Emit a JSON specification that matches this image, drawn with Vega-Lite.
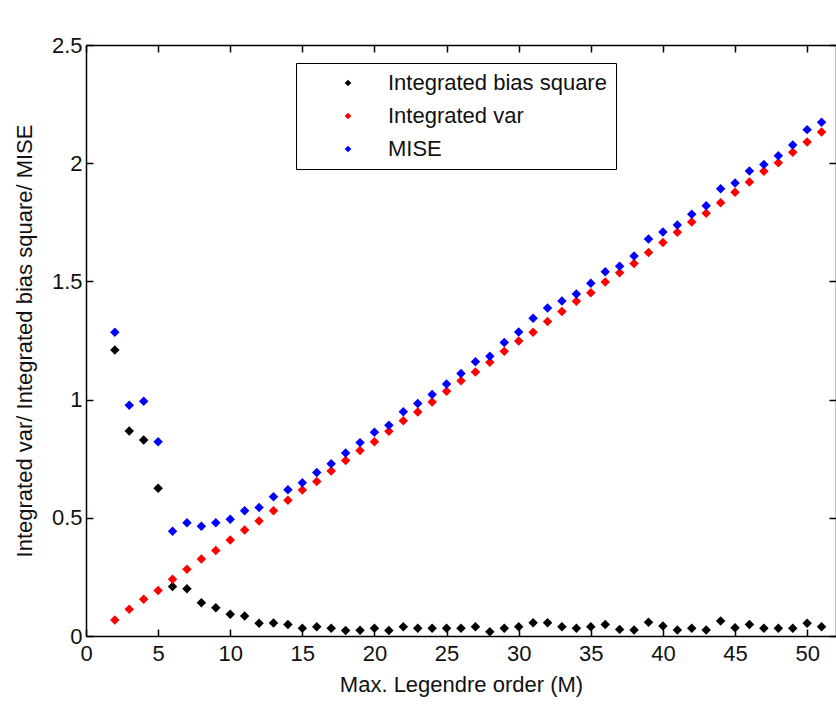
{
  "$schema": "https://vega.github.io/schema/vega-lite/v6.json",
  "width": 750,
  "height": 591,
  "autosize": {"type": "none"},
  "padding": {"left": 86, "top": 45, "right": 0, "bottom": 68},
  "background": "white",
  "config": {
    "view": {"stroke": null},
    "font": "Liberation Sans",
    "axis": {
      "grid": false,
      "domainColor": "black",
      "domainWidth": 1.5,
      "tickColor": "black",
      "tickWidth": 1.5,
      "labelFlush": false,
      "labelColor": "#111",
      "labelFont": "Liberation Sans",
      "labelFontSize": 22,
      "titleColor": "#111",
      "titleFont": "Liberation Sans",
      "titleFontSize": 22,
      "titleFontWeight": "normal"
    }
  },
  "datasets": {
    "curves": [
      {"M": 2, "s": "Integrated bias square", "v": 1.21},
      {"M": 3, "s": "Integrated bias square", "v": 0.867},
      {"M": 4, "s": "Integrated bias square", "v": 0.829},
      {"M": 5, "s": "Integrated bias square", "v": 0.625},
      {"M": 6, "s": "Integrated bias square", "v": 0.209},
      {"M": 7, "s": "Integrated bias square", "v": 0.2},
      {"M": 8, "s": "Integrated bias square", "v": 0.141},
      {"M": 9, "s": "Integrated bias square", "v": 0.12},
      {"M": 10, "s": "Integrated bias square", "v": 0.092},
      {"M": 11, "s": "Integrated bias square", "v": 0.085},
      {"M": 12, "s": "Integrated bias square", "v": 0.054},
      {"M": 13, "s": "Integrated bias square", "v": 0.055},
      {"M": 14, "s": "Integrated bias square", "v": 0.049},
      {"M": 15, "s": "Integrated bias square", "v": 0.033},
      {"M": 16, "s": "Integrated bias square", "v": 0.039},
      {"M": 17, "s": "Integrated bias square", "v": 0.033},
      {"M": 18, "s": "Integrated bias square", "v": 0.023},
      {"M": 19, "s": "Integrated bias square", "v": 0.024},
      {"M": 20, "s": "Integrated bias square", "v": 0.033},
      {"M": 21, "s": "Integrated bias square", "v": 0.023},
      {"M": 22, "s": "Integrated bias square", "v": 0.039},
      {"M": 23, "s": "Integrated bias square", "v": 0.033},
      {"M": 24, "s": "Integrated bias square", "v": 0.033},
      {"M": 25, "s": "Integrated bias square", "v": 0.033},
      {"M": 26, "s": "Integrated bias square", "v": 0.033},
      {"M": 27, "s": "Integrated bias square", "v": 0.039},
      {"M": 28, "s": "Integrated bias square", "v": 0.018},
      {"M": 29, "s": "Integrated bias square", "v": 0.033},
      {"M": 30, "s": "Integrated bias square", "v": 0.039},
      {"M": 31, "s": "Integrated bias square", "v": 0.056},
      {"M": 32, "s": "Integrated bias square", "v": 0.056},
      {"M": 33, "s": "Integrated bias square", "v": 0.039},
      {"M": 34, "s": "Integrated bias square", "v": 0.033},
      {"M": 35, "s": "Integrated bias square", "v": 0.039},
      {"M": 36, "s": "Integrated bias square", "v": 0.049},
      {"M": 37, "s": "Integrated bias square", "v": 0.028},
      {"M": 38, "s": "Integrated bias square", "v": 0.025},
      {"M": 39, "s": "Integrated bias square", "v": 0.058},
      {"M": 40, "s": "Integrated bias square", "v": 0.042},
      {"M": 41, "s": "Integrated bias square", "v": 0.025},
      {"M": 42, "s": "Integrated bias square", "v": 0.033},
      {"M": 43, "s": "Integrated bias square", "v": 0.025},
      {"M": 44, "s": "Integrated bias square", "v": 0.063},
      {"M": 45, "s": "Integrated bias square", "v": 0.035},
      {"M": 46, "s": "Integrated bias square", "v": 0.049},
      {"M": 47, "s": "Integrated bias square", "v": 0.033},
      {"M": 48, "s": "Integrated bias square", "v": 0.033},
      {"M": 49, "s": "Integrated bias square", "v": 0.033},
      {"M": 50, "s": "Integrated bias square", "v": 0.054},
      {"M": 51, "s": "Integrated bias square", "v": 0.039},
      {"M": 2, "s": "Integrated var", "v": 0.068},
      {"M": 3, "s": "Integrated var", "v": 0.113},
      {"M": 4, "s": "Integrated var", "v": 0.155},
      {"M": 5, "s": "Integrated var", "v": 0.192},
      {"M": 6, "s": "Integrated var", "v": 0.24},
      {"M": 7, "s": "Integrated var", "v": 0.282},
      {"M": 8, "s": "Integrated var", "v": 0.326},
      {"M": 9, "s": "Integrated var", "v": 0.362},
      {"M": 10, "s": "Integrated var", "v": 0.406},
      {"M": 11, "s": "Integrated var", "v": 0.448},
      {"M": 12, "s": "Integrated var", "v": 0.486},
      {"M": 13, "s": "Integrated var", "v": 0.53},
      {"M": 14, "s": "Integrated var", "v": 0.574},
      {"M": 15, "s": "Integrated var", "v": 0.618},
      {"M": 16, "s": "Integrated var", "v": 0.654},
      {"M": 17, "s": "Integrated var", "v": 0.698},
      {"M": 18, "s": "Integrated var", "v": 0.742},
      {"M": 19, "s": "Integrated var", "v": 0.785},
      {"M": 20, "s": "Integrated var", "v": 0.822},
      {"M": 21, "s": "Integrated var", "v": 0.866},
      {"M": 22, "s": "Integrated var", "v": 0.911},
      {"M": 23, "s": "Integrated var", "v": 0.948},
      {"M": 24, "s": "Integrated var", "v": 0.99},
      {"M": 25, "s": "Integrated var", "v": 1.035},
      {"M": 26, "s": "Integrated var", "v": 1.08},
      {"M": 27, "s": "Integrated var", "v": 1.117},
      {"M": 28, "s": "Integrated var", "v": 1.158},
      {"M": 29, "s": "Integrated var", "v": 1.204},
      {"M": 30, "s": "Integrated var", "v": 1.248},
      {"M": 31, "s": "Integrated var", "v": 1.285},
      {"M": 32, "s": "Integrated var", "v": 1.33},
      {"M": 33, "s": "Integrated var", "v": 1.373},
      {"M": 34, "s": "Integrated var", "v": 1.416},
      {"M": 35, "s": "Integrated var", "v": 1.452},
      {"M": 36, "s": "Integrated var", "v": 1.497},
      {"M": 37, "s": "Integrated var", "v": 1.537},
      {"M": 38, "s": "Integrated var", "v": 1.576},
      {"M": 39, "s": "Integrated var", "v": 1.622},
      {"M": 40, "s": "Integrated var", "v": 1.665},
      {"M": 41, "s": "Integrated var", "v": 1.708},
      {"M": 42, "s": "Integrated var", "v": 1.751},
      {"M": 43, "s": "Integrated var", "v": 1.788},
      {"M": 44, "s": "Integrated var", "v": 1.833},
      {"M": 45, "s": "Integrated var", "v": 1.877},
      {"M": 46, "s": "Integrated var", "v": 1.92},
      {"M": 47, "s": "Integrated var", "v": 1.966},
      {"M": 48, "s": "Integrated var", "v": 2.002},
      {"M": 49, "s": "Integrated var", "v": 2.046},
      {"M": 50, "s": "Integrated var", "v": 2.09},
      {"M": 51, "s": "Integrated var", "v": 2.132},
      {"M": 2, "s": "MISE", "v": 1.285},
      {"M": 3, "s": "MISE", "v": 0.976},
      {"M": 4, "s": "MISE", "v": 0.993},
      {"M": 5, "s": "MISE", "v": 0.822},
      {"M": 6, "s": "MISE", "v": 0.443},
      {"M": 7, "s": "MISE", "v": 0.479},
      {"M": 8, "s": "MISE", "v": 0.464},
      {"M": 9, "s": "MISE", "v": 0.479},
      {"M": 10, "s": "MISE", "v": 0.494},
      {"M": 11, "s": "MISE", "v": 0.53},
      {"M": 12, "s": "MISE", "v": 0.544},
      {"M": 13, "s": "MISE", "v": 0.589},
      {"M": 14, "s": "MISE", "v": 0.619},
      {"M": 15, "s": "MISE", "v": 0.648},
      {"M": 16, "s": "MISE", "v": 0.692},
      {"M": 17, "s": "MISE", "v": 0.729},
      {"M": 18, "s": "MISE", "v": 0.774},
      {"M": 19, "s": "MISE", "v": 0.818},
      {"M": 20, "s": "MISE", "v": 0.862},
      {"M": 21, "s": "MISE", "v": 0.891},
      {"M": 22, "s": "MISE", "v": 0.949},
      {"M": 23, "s": "MISE", "v": 0.984},
      {"M": 24, "s": "MISE", "v": 1.022},
      {"M": 25, "s": "MISE", "v": 1.066},
      {"M": 26, "s": "MISE", "v": 1.11},
      {"M": 27, "s": "MISE", "v": 1.16},
      {"M": 28, "s": "MISE", "v": 1.183},
      {"M": 29, "s": "MISE", "v": 1.242},
      {"M": 30, "s": "MISE", "v": 1.286},
      {"M": 31, "s": "MISE", "v": 1.344},
      {"M": 32, "s": "MISE", "v": 1.387},
      {"M": 33, "s": "MISE", "v": 1.417},
      {"M": 34, "s": "MISE", "v": 1.447},
      {"M": 35, "s": "MISE", "v": 1.492},
      {"M": 36, "s": "MISE", "v": 1.541},
      {"M": 37, "s": "MISE", "v": 1.564},
      {"M": 38, "s": "MISE", "v": 1.607},
      {"M": 39, "s": "MISE", "v": 1.679},
      {"M": 40, "s": "MISE", "v": 1.709},
      {"M": 41, "s": "MISE", "v": 1.739},
      {"M": 42, "s": "MISE", "v": 1.784},
      {"M": 43, "s": "MISE", "v": 1.82},
      {"M": 44, "s": "MISE", "v": 1.892},
      {"M": 45, "s": "MISE", "v": 1.916},
      {"M": 46, "s": "MISE", "v": 1.967},
      {"M": 47, "s": "MISE", "v": 1.995},
      {"M": 48, "s": "MISE", "v": 2.032},
      {"M": 49, "s": "MISE", "v": 2.077},
      {"M": 50, "s": "MISE", "v": 2.142},
      {"M": 51, "s": "MISE", "v": 2.173}
    ]
  },
  "resolve": {"axis": {"x": "independent", "y": "independent"}},
  "layer": [
    {
      "data": {"name": "curves"},
      "mark": {"type": "point", "shape": "diamond", "filled": true, "size": 90, "opacity": 1},
      "encoding": {
        "x": {
          "field": "M",
          "type": "quantitative",
          "scale": {"domain": [0, 52], "nice": false, "zero": false},
          "axis": {
            "orient": "bottom",
            "values": [0, 5, 10, 15, 20, 25, 30, 35, 40, 45, 50],
            "title": "Max. Legendre order (M)",
            "tickSize": -7,
            "labelPadding": 14,
            "titlePadding": 10
          }
        },
        "y": {
          "field": "v",
          "type": "quantitative",
          "scale": {"domain": [0, 2.5], "nice": false, "zero": false},
          "axis": {
            "orient": "left",
            "values": [0, 0.5, 1, 1.5, 2, 2.5],
            "format": "~g",
            "title": "Integrated var/ Integrated bias square/ MISE",
            "tickSize": -7,
            "labelPadding": 11,
            "titlePadding": 15
          }
        },
        "color": {
          "field": "s",
          "type": "nominal",
          "sort": null,
          "scale": {
            "domain": ["Integrated bias square", "Integrated var", "MISE"],
            "range": ["#000000", "#ff0000", "#0000ff"]
          },
          "legend": {
            "orient": "none",
            "legendX": 210,
            "legendY": 18,
            "title": null,
            "strokeColor": "black",
            "fillColor": "white",
            "padding": 9,
            "symbolType": "diamond",
            "symbolSize": 45,
            "symbolStrokeWidth": 0,
            "symbolOpacity": 1,
            "symbolOffset": 32,
            "labelOffset": 29,
            "labelFont": "Liberation Sans",
            "labelFontSize": 22,
            "labelColor": "#111",
            "labelLimit": 400,
            "rowPadding": 11
          }
        }
      }
    },
    {
      "mark": {"type": "text", "text": "x 10", "align": "left", "baseline": "alphabetic", "dx": 2, "dy": -12, "fontSize": 21, "font": "Liberation Sans", "color": "#111"},
      "encoding": {
        "x": {
          "datum": 0,
          "type": "quantitative",
          "axis": {"orient": "top", "values": [0, 5, 10, 15, 20, 25, 30, 35, 40, 45, 50], "labels": false, "title": null, "tickSize": -7}
        },
        "y": {
          "datum": 2.5,
          "type": "quantitative",
          "axis": {"orient": "right", "values": [0, 0.5, 1, 1.5, 2, 2.5], "labels": false, "title": null, "tickSize": -7}
        }
      }
    },
    {
      "mark": {"type": "text", "text": "-3", "align": "left", "baseline": "alphabetic", "dx": 42, "dy": -28, "fontSize": 14, "font": "Liberation Sans", "color": "#111"},
      "encoding": {
        "x": {"datum": 0, "type": "quantitative", "axis": null},
        "y": {"datum": 2.5, "type": "quantitative", "axis": null}
      }
    }
  ]
}
